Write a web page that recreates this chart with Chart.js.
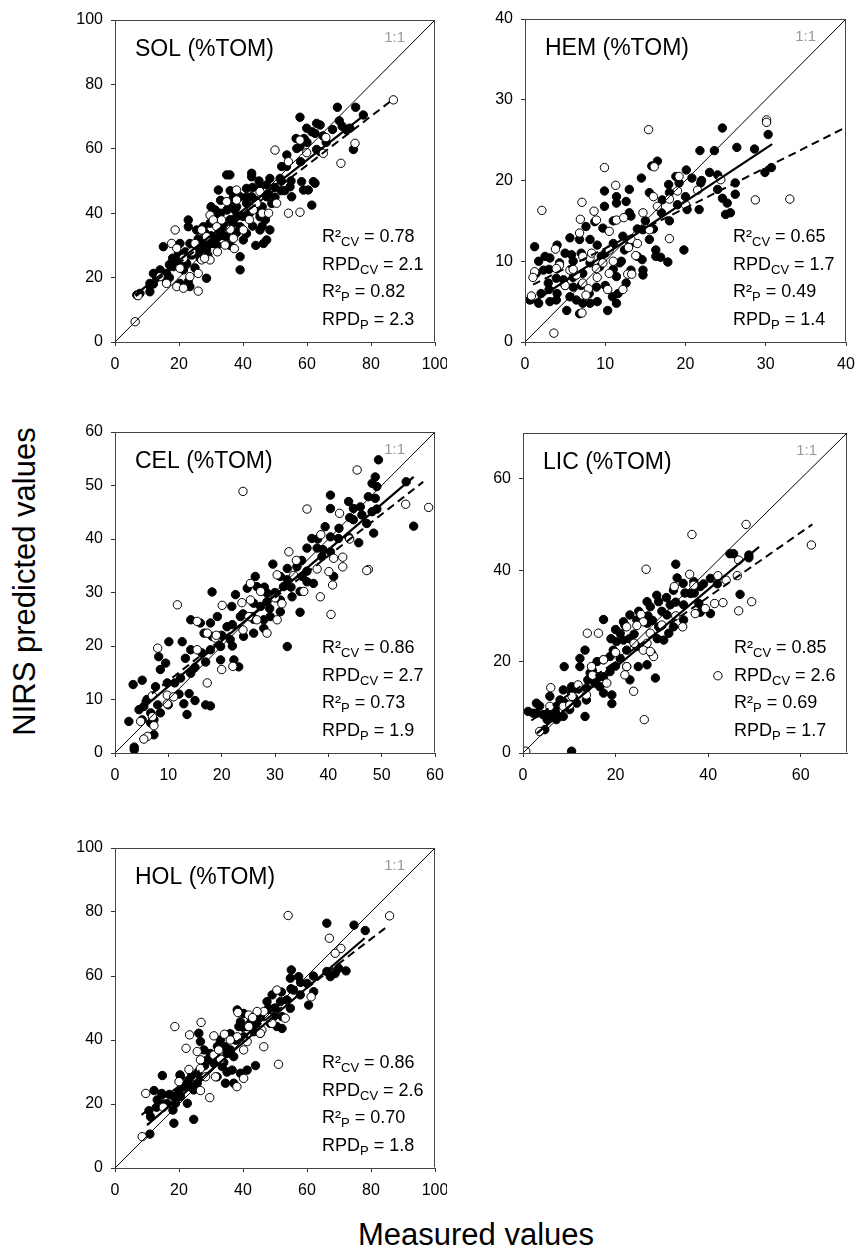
<!DOCTYPE html>
<html>
<head>
<meta charset="utf-8">
<script src="https://cdn.jsdelivr.net/npm/chart.js@4.4.0/dist/chart.umd.min.js"></script>
<style>
  body { margin: 0; background: #fff; width: 860px; height: 1248px; position: relative; overflow: hidden;
         font-family: Arial, "Liberation Sans", sans-serif; }
  .panel { position: absolute; }
  #xtitle { position: absolute; left: 358px; top: 1219px; font-size: 31px; line-height: 31px; color: #000; white-space: nowrap; }
  #ytitle { position: absolute; left: -176px; top: 566px; width: 400px; height: 31px; font-size: 31px; line-height: 31px;
            text-align: center; color: #000; white-space: nowrap; transform: rotate(-90deg); }
</style>
</head>
<body>
<div class="panel" style="left:70px;top:10px"><canvas id="c0" width="377" height="368"></canvas></div>
<div class="panel" style="left:480px;top:9px"><canvas id="c1" width="378" height="369"></canvas></div>
<div class="panel" style="left:70px;top:422px"><canvas id="c2" width="377" height="367"></canvas></div>
<div class="panel" style="left:478px;top:423px"><canvas id="c3" width="381" height="366"></canvas></div>
<div class="panel" style="left:70px;top:838px"><canvas id="c4" width="377" height="366"></canvas></div>
<div id="ytitle">NIRS predicted values</div>
<div id="xtitle">Measured values</div>

<script>
// panel settings
var panelTitles = ['SOL (%TOM)', 'HEM (%TOM)', 'CEL (%TOM)', 'LIC (%TOM)', 'HOL (%TOM)'];
var axisMax = [100, 40, 60, 70, 100];
var tickStep = [20, 10, 10, 20, 20];
var r2cv = ['0.78', '0.65', '0.86', '0.85', '0.86'];
var rpdcv = ['2.1', '1.7', '2.7', '2.6', '2.6'];
var r2p = ['0.82', '0.49', '0.73', '0.69', '0.70'];
var rpdp = ['2.3', '1.4', '1.9', '1.7', '1.8'];

// SOL: filled = calibration (cv), open = prediction set
var solCal = [[57.8,69.8],[69.5,72.9],[75.2,72.9],[77.6,70.5],[70.1,68.7],[72.4,65.8],[73.4,66.4],[63.0,67.9],[64.1,67.4],[59.9,66.4],[61.5,65.3],[62.5,64.8],[56.6,63.2],[59.1,63.2],[57.8,60.7],[56.8,60.1],[63.0,59.8],[64.1,59.1],[74.5,59.8],[53.7,58.1],[52.1,54.5],[53.6,54.5],[34.9,51.9],[35.9,51.9],[42.7,52.4],[42.7,51.3],[48.4,50.8],[51.6,50.8],[58.3,49.8],[62.5,49.3],[62.0,49.8],[58.9,47.2],[60.4,47.2],[61.5,42.5],[32.3,47.2],[41.1,47.7],[45.3,48.2],[47.4,48.8],[54.7,48.2],[55.2,45.1],[39.1,45.1],[42.7,45.1],[47.4,45.1],[35.9,43.1],[37.5,41.0],[44.3,41.0],[45.3,38.9],[31.3,41.0],[22.9,37.9],[22.9,35.8],[25.5,34.8],[27.6,35.8],[29.7,36.9],[32.8,34.8],[35.0,32.7],[37.0,36.9],[39.1,35.8],[41.1,33.7],[45.3,34.8],[48.4,34.8],[47.4,31.7],[46.4,30.6],[40.1,31.7],[39.1,26.5],[39.1,22.4],[28.6,19.8],[15.1,29.6],[20.3,30.6],[19.8,27.5],[23.4,30.6],[24.5,27.5],[26.6,28.6],[28.6,28.6],[22.4,24.4],[21.4,22.4],[18.2,23.4],[12.0,21.3],[14.1,22.4],[16.1,21.3],[15.6,19.8],[10.9,18.2],[10.9,15.6],[7.8,15.1],[6.8,14.6],[22.9,18.7],[23.4,17.2],[20.3,18.2],[26.6,26.0],[30.7,30.6],[32.3,32.7],[38.0,38.9],[41.1,43.1],[33,40],[36,38],[38,42],[34,36],[30,33],[27,31],[25,29],[42,40],[44,44],[46,42],[48,46],[50,48],[52,47],[37,45],[40,39],[35,41],[31,39],[28,34],[26,32],[24,27],[22,25],[18,26],[17,24],[29,27],[32,30],[43,36],[47,38],[44,30],[38,34],[36,30],[45,50],[50,45],[52,50],[49,43],[41,45],[43,48],[36,47],[33,44],[30,42],[34,33],[31,31],[27,29],[22,28],[20,25],[17,20],[13,20],[12,18],[25,23],[29,30],[46,36],[53,47],[55,50],[66,62],[68,66],[71,67],[60,62],[65,64],[58,56]];
var solVal = [[87.0,75.2],[50.0,59.6],[54.2,56.0],[57.8,62.7],[59.9,58.8],[65.9,63.5],[65.1,58.6],[70.6,55.5],[75.0,61.7],[38.0,47.2],[34.9,43.6],[38.0,44.1],[29.7,39.4],[30.7,37.9],[44.3,43.1],[43.2,41.0],[50.5,43.1],[54.2,40.0],[57.8,40.3],[45.3,46.7],[18.8,34.8],[17.7,30.6],[19.3,29.1],[25.0,30.6],[27.1,34.8],[28.6,32.7],[31.8,35.8],[34.4,30.1],[37.0,32.2],[37.3,29.0],[40.1,34.8],[29.7,25.5],[27.1,25.5],[21.4,26.0],[20.3,22.9],[14.1,20.3],[16.1,18.2],[19.3,17.2],[21.4,16.7],[26.0,15.8],[26.0,21.3],[23.4,20.3],[6.3,6.3],[7.2,14.4],[33.3,37.9],[32,28],[36,35],[24,28],[28,26],[42,38],[46,40],[48,40]];
var solCvFit = [[6.3,14.6],[77.6,70.2]];
var solPFit = [[6.5,14.2],[85.9,74.6]];

// HEM
var hemCal = [[24.6,26.5],[21.8,23.7],[23.6,23.7],[28.6,23.9],[26.4,24.1],[30.3,25.7],[30.7,21.6],[29.9,21.0],[20.1,21.3],[20.8,20.3],[21.9,19.7],[18.8,20.5],[17.9,19.5],[16.5,22.4],[15.8,21.8],[14.5,20.3],[15.5,18.5],[17.1,17.6],[18.0,18.5],[19.2,19.7],[20.2,16.4],[21.7,16.4],[24.0,18.9],[24.6,17.8],[25.2,17.2],[26.2,18.3],[26.2,19.7],[25.0,15.8],[25.6,16.0],[24.0,20.7],[13.0,18.9],[11.4,18.0],[9.9,16.8],[9.9,18.7],[8.7,14.9],[9.7,14.1],[11.4,17.2],[12.6,17.4],[13.2,15.6],[14.7,13.9],[15.5,12.7],[16.3,10.6],[16.9,10.5],[17.8,9.9],[19.8,11.4],[14.6,10.2],[14.7,8.3],[14.0,10.6],[12.4,11.4],[11.8,9.8],[11.4,8.1],[10.9,5.6],[10.3,3.9],[8.1,12.7],[7.6,14.3],[6.8,12.7],[5.6,12.9],[5.8,10.8],[7.2,8.5],[8.1,9.8],[9.3,9.3],[9.5,10.6],[8.9,6.8],[8.1,4.8],[7.2,4.8],[6.4,5.2],[5.6,5.6],[5.2,3.9],[6.8,3.5],[6.0,6.8],[4.8,7.7],[4.3,9.8],[3.9,7.9],[3.1,10.4],[2.5,10.6],[1.7,10.0],[1.2,11.8],[1.4,8.5],[2.3,8.9],[2.9,7.3],[3.1,5.0],[1.7,4.8],[0.6,5.2],[3.9,5.2],[11.6,6.0],[11.4,4.8],[12.6,7.3],[13.2,8.9],[14.7,8.9],[12.2,13.1],[11.0,12.2],[16.3,11.4],[2,6],[3,6.5],[4,6],[5,7],[6,8],[7,7],[8,6],[9,5],[10,7],[11,9],[9,12],[10,11],[12,10],[13,12],[14,14],[15,15],[16,14],[17,16],[18,15],[19,17],[20,18],[22,20],[23,21],[13,16],[11,15],[6,10],[5,11],[4,12],[3,9],[7,11]];
var hemVal = [[30.1,27.5],[30.1,27.2],[15.4,26.3],[9.9,21.6],[16.1,21.7],[11.3,19.4],[7.1,17.3],[8.6,16.2],[2.1,16.3],[8.9,15.1],[6.9,15.2],[6.8,13.5],[10.5,13.7],[11.4,15.1],[12.3,15.4],[14.7,16.0],[16.5,16.8],[18.0,17.7],[19.2,20.5],[19.0,18.7],[21.5,18.8],[24.4,20.1],[28.7,17.6],[33.0,17.7],[18.0,12.8],[15.5,13.9],[13.2,12.7],[12.9,11.7],[10.5,11.4],[8.1,10.4],[8.3,11.0],[7.2,10.6],[8.9,9.1],[10.5,8.5],[10.3,6.5],[12.2,6.5],[12.8,8.4],[13.3,8.4],[9.7,9.8],[5.6,8.9],[4.3,9.5],[3.8,11.5],[3.9,9.1],[1.2,8.7],[1.0,8.0],[0.8,5.7],[3.6,1.1],[6.4,8.3],[7.2,7.3],[7.9,6.6],[7.1,3.6],[7.6,5.8],[14.0,12.2],[13.8,10.7],[5,7],[6,9],[9,8],[11,10],[16,18],[20,17]];
var hemCvFit = [[0.8,4.8],[30.8,24.5]];
var hemPFit = [[1.0,7.1],[40,26.6]];

// CEL
var celCal = [[49.4,54.8],[48.8,51.6],[48.2,50.4],[49.1,49.8],[54.6,50.7],[47.5,47.9],[48.8,47.6],[49.1,45.6],[48.2,45.1],[56.0,42.4],[40.4,48.2],[40.4,45.7],[43.8,47.0],[44.7,45.7],[46.3,44.5],[47.2,42.9],[48.5,41.1],[44.7,43.6],[43.8,40.4],[45.7,39.3],[39.4,42.3],[40.4,40.4],[41.9,40.1],[36.9,40.1],[36.0,38.3],[37.9,38.3],[40.4,37.6],[38.8,36.7],[41.0,33.0],[34.1,34.8],[35.1,33.0],[36.0,32.0],[37.2,31.7],[34.7,26.3],[32.3,32.4],[31.6,31.1],[33.2,29.2],[31.0,28.6],[29.6,35.3],[26.3,33.0],[24.8,30.8],[22.6,29.6],[26.6,31.1],[28.5,29.9],[28.5,28.3],[27.3,27.4],[31.0,26.4],[29.1,25.5],[27.9,24.9],[27.9,23.3],[26.0,22.4],[24.1,21.8],[21.6,21.2],[21.0,23.6],[19.2,25.5],[17.9,24.3],[18.2,30.1],[14.2,24.9],[16.0,24.3],[16.7,22.4],[18.2,21.8],[19.8,19.9],[17.9,19.3],[16.3,18.7],[14.2,19.3],[12.6,20.8],[10.1,20.8],[8.2,18.0],[8.5,15.6],[9.5,16.8],[13.2,17.7],[14.2,14.9],[12.3,14.0],[11.2,13.1],[9.8,13.1],[7.6,12.4],[5.1,13.6],[3.4,12.8],[4.5,8.1],[5.4,8.7],[6.7,7.5],[7.3,6.2],[6.7,5.6],[8.5,7.5],[5.1,6.2],[2.6,5.9],[3.6,1.1],[3.6,0.6],[7.3,3.4],[13.5,7.2],[12.9,9.2],[15.0,9.8],[17.0,9.0],[17.9,8.8],[13.9,11.1],[23.2,16.1],[32.3,19.9],[22.3,17.4],[19.8,17.4],[23.5,25.5],[21.9,27.4],[25.7,25.5],[34.7,30.2],[32.3,34.5],[20,22],[22,24],[24,26],[26,28],[28,31],[30,30],[33,31],[35,36],[38,40],[42,42],[44,44],[46,46],[15,16],[17,17],[12,11],[10,9],[8,9],[6,10],[22,20],[26,25],[29,27],[31,33],[36,34],[39,38]];
var celVal = [[45.4,52.9],[24.0,48.9],[36.0,45.6],[42.1,44.8],[54.5,46.5],[58.8,45.9],[38.6,40.8],[32.6,37.6],[41.0,36.4],[42.7,36.6],[42.7,34.8],[37.9,34.4],[40.1,33.9],[40.8,31.4],[47.5,34.3],[47.2,34.1],[38.5,29.2],[35.4,30.2],[30.4,33.3],[33.5,33.2],[40.5,25.9],[27.3,30.2],[25.4,28.6],[23.8,28.1],[20.1,27.6],[11.7,27.7],[15.4,24.6],[17.3,22.4],[18.8,21.5],[15.4,19.3],[17.3,13.1],[22.1,16.2],[20.0,15.6],[26.6,24.9],[28.5,22.4],[30.4,24.9],[31.3,27.9],[8.0,19.6],[7.0,10.7],[9.8,10.8],[11.0,10.5],[9.8,9.2],[4.8,5.9],[7.0,6.8],[7.3,5.1],[6.1,3.1],[5.4,2.6],[25.4,31.7],[25.1,25.5],[19,22],[24,23],[30,29],[34,36],[44,40]];
var celCvFit = [[4.8,8.0],[56.0,51.6]];
var celPFit = [[5.0,9.6],[57.8,50.7]];

// LIC
var licCal = [[33.3,38.3],[33.0,41.3],[34.6,37.1],[32.5,35.6],[36.9,37.5],[38.3,36.4],[40.5,38.2],[44.7,43.6],[45.5,43.6],[48.8,43.3],[48.8,42.7],[46.9,34.7],[38.0,32.7],[40.5,30.5],[38.3,30.8],[34.7,32.4],[31.8,32.4],[28.9,34.5],[26.8,33.1],[27.5,32.0],[29.3,33.1],[31.1,30.2],[32.5,27.6],[31.5,26.2],[29.3,27.6],[26.8,28.4],[24.6,29.1],[23.1,30.2],[21.7,28.7],[21.0,26.2],[21.7,24.7],[20.2,24.4],[19.5,22.5],[22.4,22.5],[24.6,23.3],[24.9,18.9],[26.8,19.3],[28.6,16.4],[27.8,21.8],[30.4,24.7],[18.8,21.1],[17.4,20.4],[18.8,17.8],[17.4,16.7],[17.4,29.2],[13.4,22.5],[12.3,18.9],[12.3,20.7],[14.5,17.5],[15.9,16.7],[15.5,15.3],[16.6,14.5],[17.4,13.1],[19.2,12.7],[19.2,10.8],[13.7,14.2],[13.7,11.6],[13.4,8.0],[8.9,18.9],[10.5,14.5],[10.5,13.1],[8.7,13.8],[8.0,11.6],[7.2,10.2],[5.8,9.1],[4.3,8.4],[2.9,8.7],[1.1,9.1],[2.2,8.7],[2.9,10.9],[3.6,10.3],[5.2,7.3],[4.7,5.1],[7.2,7.3],[8.7,8.0],[10.5,0.4],[10.1,9.5],[11.6,10.9],[5.8,12.4],[23.1,16.0],[22.4,18.9],[21.0,20.7],[36.2,34.9],[34.7,29.1],[20,27],[22,28],[24,26],[25,31],[27,30],[28,29],[30,31],[31,34],[33,33],[35,35],[37,35],[39,37],[42,37],[15,18],[16,20],[14,16],[12,14],[9,11],[6,8],[7,9],[11,12],[19,25],[23,25],[29,25],[20,19]];
var licVal = [[48.2,50.0],[36.5,47.8],[62.3,45.5],[46.6,42.2],[42.1,38.8],[43.9,37.8],[46.3,38.8],[36.0,39.1],[36.9,36.7],[49.4,33.1],[46.6,31.1],[41.4,32.7],[43.2,32.9],[39.4,31.6],[37.2,30.5],[34.5,27.6],[32.7,36.4],[26.6,40.2],[25.5,30.3],[26.0,28.7],[24.6,27.9],[22.4,27.6],[27.5,26.2],[26.8,24.0],[26.0,22.5],[28.2,21.1],[27.5,22.2],[22.4,18.9],[22.0,17.1],[23.9,13.5],[26.2,7.3],[13.9,26.2],[16.3,26.2],[14.8,18.9],[13.7,12.7],[11.9,14.9],[10.6,12.4],[6.0,14.3],[3.6,4.7],[0.6,0.4],[42.1,16.9],[17.4,20.4],[18.1,15.3],[8.7,10.2],[10.1,10.5],[5.8,10.2],[20,22],[24,24],[30,28],[33,30],[15,17]];
var licCvFit = [[3.0,4.3],[51.0,45.1]];
var licPFit = [[1.8,7.1],[62.5,50.0]];

// HOL
var holCal = [[66.2,76.5],[74.7,75.9],[78.2,74.2],[66.2,61.4],[67.3,59.8],[68.8,60.8],[69.9,62.4],[72.2,61.6],[55.1,61.9],[54.8,59.3],[57.4,59.8],[60.0,57.7],[62.1,55.1],[60.5,50.9],[57.9,54.1],[55.8,55.6],[49.1,54.1],[51.7,52.0],[53.7,52.5],[54.8,49.9],[52.2,47.3],[50.6,44.2],[52.2,43.6],[48.5,45.2],[47.5,48.9],[46.5,47.3],[44.4,46.3],[42.3,47.3],[39.2,45.7],[38.7,44.2],[41.3,44.2],[43.4,42.6],[45.4,42.1],[40.2,41.0],[37.6,40.0],[36.1,36.9],[34.5,37.9],[32.9,40.0],[35.0,35.8],[31.8,35.8],[29.8,35.8],[27.8,36.9],[26.2,42.1],[26.7,39.5],[28.8,33.8],[30.9,32.7],[33.5,31.7],[36.6,30.6],[39.2,29.6],[41.3,30.6],[43.9,32.0],[37.1,26.5],[34.5,26.5],[31.9,28.5],[26.7,28.5],[25.7,26.5],[23.6,25.4],[23.1,27.5],[20.5,28.5],[21.5,25.4],[20.5,22.3],[18.4,22.3],[18.9,20.2],[16.3,20.2],[18.1,18.1],[22.6,20.2],[24.6,24.4],[14.8,28.9],[20.3,29.1],[12.2,24.2],[13.2,21.3],[14.6,23.3],[10.6,17.9],[11.1,16.0],[18.4,14.0],[24.6,15.2],[10.9,10.6],[37.1,34.8],[38.2,49.4],[40.2,48.3],[47.5,52.0],[49.6,47.3],[36,42],[38,40],[40,44],[42,45],[44,45],[46,48],[48,50],[50,50],[52,55],[55,56],[58,58],[62,60],[30,34],[28,32],[26,30],[24,29],[22,26],[20,24],[17,23],[15,20],[13,19],[34,33],[32,38],[35,30]];
var holVal = [[54.1,78.9],[85.8,78.8],[67.0,71.8],[70.6,68.6],[68.8,67.1],[61.3,53.5],[50.6,55.6],[46.5,48.9],[44.4,48.9],[41.8,47.8],[38.4,48.6],[41.8,44.2],[45.9,43.1],[53.2,46.8],[49.1,45.2],[51.1,32.4],[18.7,44.2],[23.3,41.6],[26.9,45.5],[30.9,41.3],[34.2,41.8],[22.2,37.4],[25.7,36.4],[26.7,33.8],[30.9,35.3],[31.4,28.5],[38.2,41.0],[40.2,36.9],[41.3,39.5],[23.1,30.8],[28.3,28.5],[38.1,25.4],[40.2,28.0],[26.7,24.2],[29.6,22.0],[9.6,23.3],[15.1,19.0],[8.5,9.8],[46.5,37.9],[45.4,42.1],[32.4,36.9],[26.7,31.1],[33,34],[36,40],[43,47],[48,47],[20,27]];
var holCvFit = [[10.0,13.4],[78.0,71.8]];
var holPFit = [[8.3,16.6],[85.0,75.4]];

var calSets = [solCal, hemCal, celCal, licCal, holCal];
var valSets = [solVal, hemVal, celVal, licVal, holVal];
var cvFits = [solCvFit, hemCvFit, celCvFit, licCvFit, holCvFit];
var pFits = [solPFit, hemPFit, celPFit, licPFit, holPFit];

var FONT = 'Arial, "Liberation Sans", sans-serif';
Chart.defaults.font.family = FONT;
Chart.defaults.color = '#000';

function toXY(arr) {
  return arr.map(function (p) { return { x: p[0], y: p[1] }; });
}

// frame, 1:1 label, title and statistics inside each panel
var panelDecor = {
  id: 'panelDecor',
  afterDatasetsDraw: function (chart, args, opts) {
    var ctx = chart.ctx, a = chart.chartArea;
    ctx.save();
    ctx.strokeStyle = '#444';
    ctx.lineWidth = 1;
    var l = Math.round(a.left) + 0.5, t = Math.round(a.top) + 0.5;
    var r = Math.round(a.right) - 0.5, b = Math.round(a.bottom) - 0.5;
    ctx.beginPath();
    ctx.moveTo(l, b); ctx.lineTo(l, t); ctx.lineTo(r, t); ctx.lineTo(r, b);
    ctx.stroke();

    ctx.fillStyle = '#000';
    ctx.textBaseline = 'alphabetic';
    ctx.textAlign = 'left';
    ctx.font = '23px ' + FONT;
    ctx.fillText(opts.title, a.left + 20, a.top + 36);

    ctx.fillStyle = '#999';
    ctx.textAlign = 'right';
    ctx.font = '15px ' + FONT;
    ctx.fillText('1:1', a.right - 30, a.top + 22);

    ctx.fillStyle = '#000';
    ctx.textAlign = 'left';
    var x0 = a.right - 113;
    var rows = opts.stats;
    var base = [a.bottom - 100, a.bottom - 72, a.bottom - 45, a.bottom - 17];
    rows.forEach(function (row, i) {
      var x = x0, y = base[i];
      ctx.font = '18px ' + FONT;
      ctx.fillText(row[0], x, y);
      x += ctx.measureText(row[0]).width;
      ctx.font = '13px ' + FONT;
      ctx.fillText(row[1], x, y + 4);
      x += ctx.measureText(row[1]).width;
      ctx.font = '18px ' + FONT;
      ctx.fillText(row[2], x, y);
    });
    ctx.restore();
  }
};

function axisCfg(max, step, isX) {
  return {
    type: 'linear',
    min: 0,
    max: max,
    ticks: { stepSize: step, includeBounds: false, font: { size: 16 }, color: '#000', padding: isX ? 9 : 8 },
    grid: { display: true, drawOnChartArea: false, drawTicks: true, tickLength: 4, color: '#333' },
    border: { display: true, color: '#444', width: 1 },
    afterFit: function (scale) {
      if (isX) { scale.height = 36; scale.paddingLeft = 0; scale.paddingRight = 0; }
      else { scale.width = 45; scale.paddingTop = 0; scale.paddingBottom = 0; }
    }
  };
}

for (var i = 0; i < 5; i++) {
  var m = axisMax[i];
  new Chart(document.getElementById('c' + i), {
    type: 'scatter',
    data: {
      datasets: [
        { data: toXY([[0, 0], [m, m]]), showLine: true, borderColor: '#000', borderWidth: 1, pointRadius: 0, order: 0 },
        { data: toXY(cvFits[i]), showLine: true, borderColor: '#000', borderWidth: 2.2, pointRadius: 0, order: 0 },
        { data: toXY(pFits[i]), showLine: true, borderColor: '#000', borderWidth: 2, borderDash: [8, 5], pointRadius: 0, order: 0 },
        { data: toXY(valSets[i]), pointRadius: 4.2, backgroundColor: '#fff', borderColor: '#000', borderWidth: 1, order: 1 },
        { data: toXY(calSets[i]), pointRadius: 4.2, backgroundColor: '#000', borderColor: '#000', borderWidth: 1, order: 2 }
      ]
    },
    options: {
      responsive: false,
      animation: false,
      events: [],
      layout: { autoPadding: false, padding: { top: 10, right: 12, left: 0, bottom: 0 } },
      scales: { x: axisCfg(m, tickStep[i], true), y: axisCfg(m, tickStep[i], false) },
      plugins: {
        legend: { display: false },
        tooltip: { enabled: false },
        panelDecor: {
          title: panelTitles[i],
          stats: [
            ['R\u00b2', 'CV', ' = ' + r2cv[i]],
            ['RPD', 'CV', ' = ' + rpdcv[i]],
            ['R\u00b2', 'P', ' = ' + r2p[i]],
            ['RPD', 'P', ' = ' + rpdp[i]]
          ]
        }
      }
    },
    plugins: [panelDecor]
  });
}
</script>
</body>
</html>
